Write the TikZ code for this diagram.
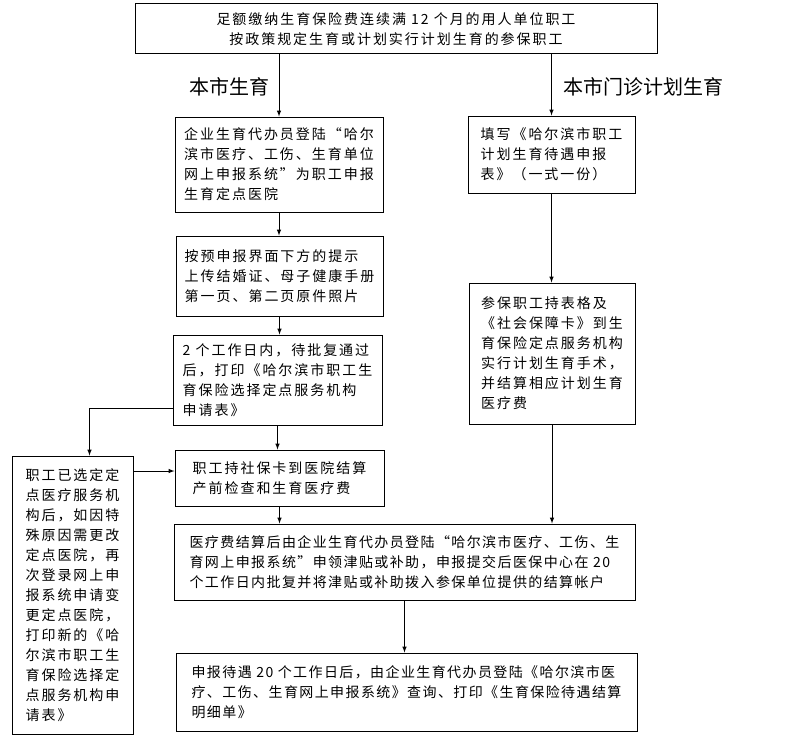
\documentclass[tikz,border=0pt]{standalone}
\usepackage{fontspec}
\newfontfamily\cjk[LetterSpace=14]{Noto Sans CJK SC}
\newfontfamily\cjklab{Noto Sans CJK SC}
\usepackage{tikz}
\usetikzlibrary{arrows}

\begin{document}
\begin{tikzpicture}[x=1pt,y=-1pt,>=latex,line width=1pt,
    box/.style={draw,inner sep=0pt,align=left,font=\cjk\fontsize{14}{20}\selectfont},
    wide/.style={font=\cjk\addfontfeature{LetterSpace=10}\fontsize{14}{20}\selectfont},
    lab/.style={font=\cjklab\fontsize{20}{24}\selectfont}]
    \useasboundingbox (0,0) rectangle (791,741);
    \node[box,align=center,minimum width=522pt,minimum height=50pt] (top) at (396,29) {足额缴纳生育保险费连续满 12 个月的用人单位职工\\按政策规定生育或计划实行计划生育的参保职工};
    \node[lab] (labl) at (229,87) {本市生育};
    \node[lab] (labr) at (643,87) {本市门诊计划生育};
    \node[box,minimum width=208pt,minimum height=95pt] (apply) at (279,164.5) {企业生育代办员登陆“哈尔\\滨市医疗、工伤、生育单位\\网上申报系统”为职工申报\\生育定点医院};
    \node[box,minimum width=207pt,minimum height=80pt] (upload) at (279.5,276) {按预申报界面下方的提示\\上传结婚证、母子健康手册\\第一页、第二页原件照片};
    \node[box,minimum width=209pt,minimum height=90pt] (print) at (277.5,380) {2 个工作日内，待批复通过\\后，打印《哈尔滨市职工生\\育保险选择定点服务机构\\申请表》};
    \node[box,minimum width=209pt,minimum height=56pt] (settle) at (279.5,478) {职工持社保卡到医院结算\\产前检查和生育医疗费};
    \node[box,wide,minimum width=461pt,minimum height=76pt] (claim) at (404.5,562) {医疗费结算后由企业生育代办员登陆“哈尔滨市医疗、工伤、生\\育网上申报系统”申领津贴或补助，申报提交后医保中心在 20\\个工作日内批复并将津贴或补助拨入参保单位提供的结算帐户};
    \node[box,wide,minimum width=461pt,minimum height=78pt] (query) at (406.5,692) {申报待遇 20 个工作日后，由企业生育代办员登陆《哈尔滨市医\\疗、工伤、生育网上申报系统》查询、打印《生育保险待遇结算\\明细单》};
    \node[box,minimum width=167pt,minimum height=77pt] (form) at (551.5,154.5) {填写《哈尔滨市职工\\计划生育待遇申报\\表》（一式一份）};
    \node[box,minimum width=166pt,minimum height=141pt] (surgery) at (552,353.5) {参保职工持表格及\\《社会保障卡》到生\\育保险定点服务机构\\实行计划生育手术，\\并结算相应计划生育\\医疗费};
    \node[box,minimum width=121pt,minimum height=278pt] (change) at (72.5,595) {职工已选定定\\点医疗服务机\\构后，如因特\\殊原因需更改\\定点医院，再\\次登录网上申\\报系统申请变\\更定点医院，\\打印新的《哈\\尔滨市职工生\\育保险选择定\\点服务机构申\\请表》};
    \draw[->] (top.south -| apply.north) -- (apply.north);
    \draw[->] (top.south -| form.north) -- (form.north);
    \draw[->] (apply.south) -- (apply.south |- upload.north);
    \draw[->] (upload.south) -- (upload.south |- print.north);
    \draw[->] (print.south) -- (print.south |- settle.north);
    \draw[->] (settle.south) -- (settle.south |- claim.north);
    \draw[->] (form.south) -- (form.south |- surgery.north);
    \draw[->] (surgery.south) -- (surgery.south |- claim.north);
    \draw[->] (claim.south) -- (claim.south |- query.north);
    \draw[->] ([yshift=-28pt]print.west) -| ([xshift=17pt]change.north);
    \coordinate (cin) at ([yshift=7pt]settle.west);
    \draw[->] (cin -| change.east) -- (cin);
\end{tikzpicture}
\end{document}
